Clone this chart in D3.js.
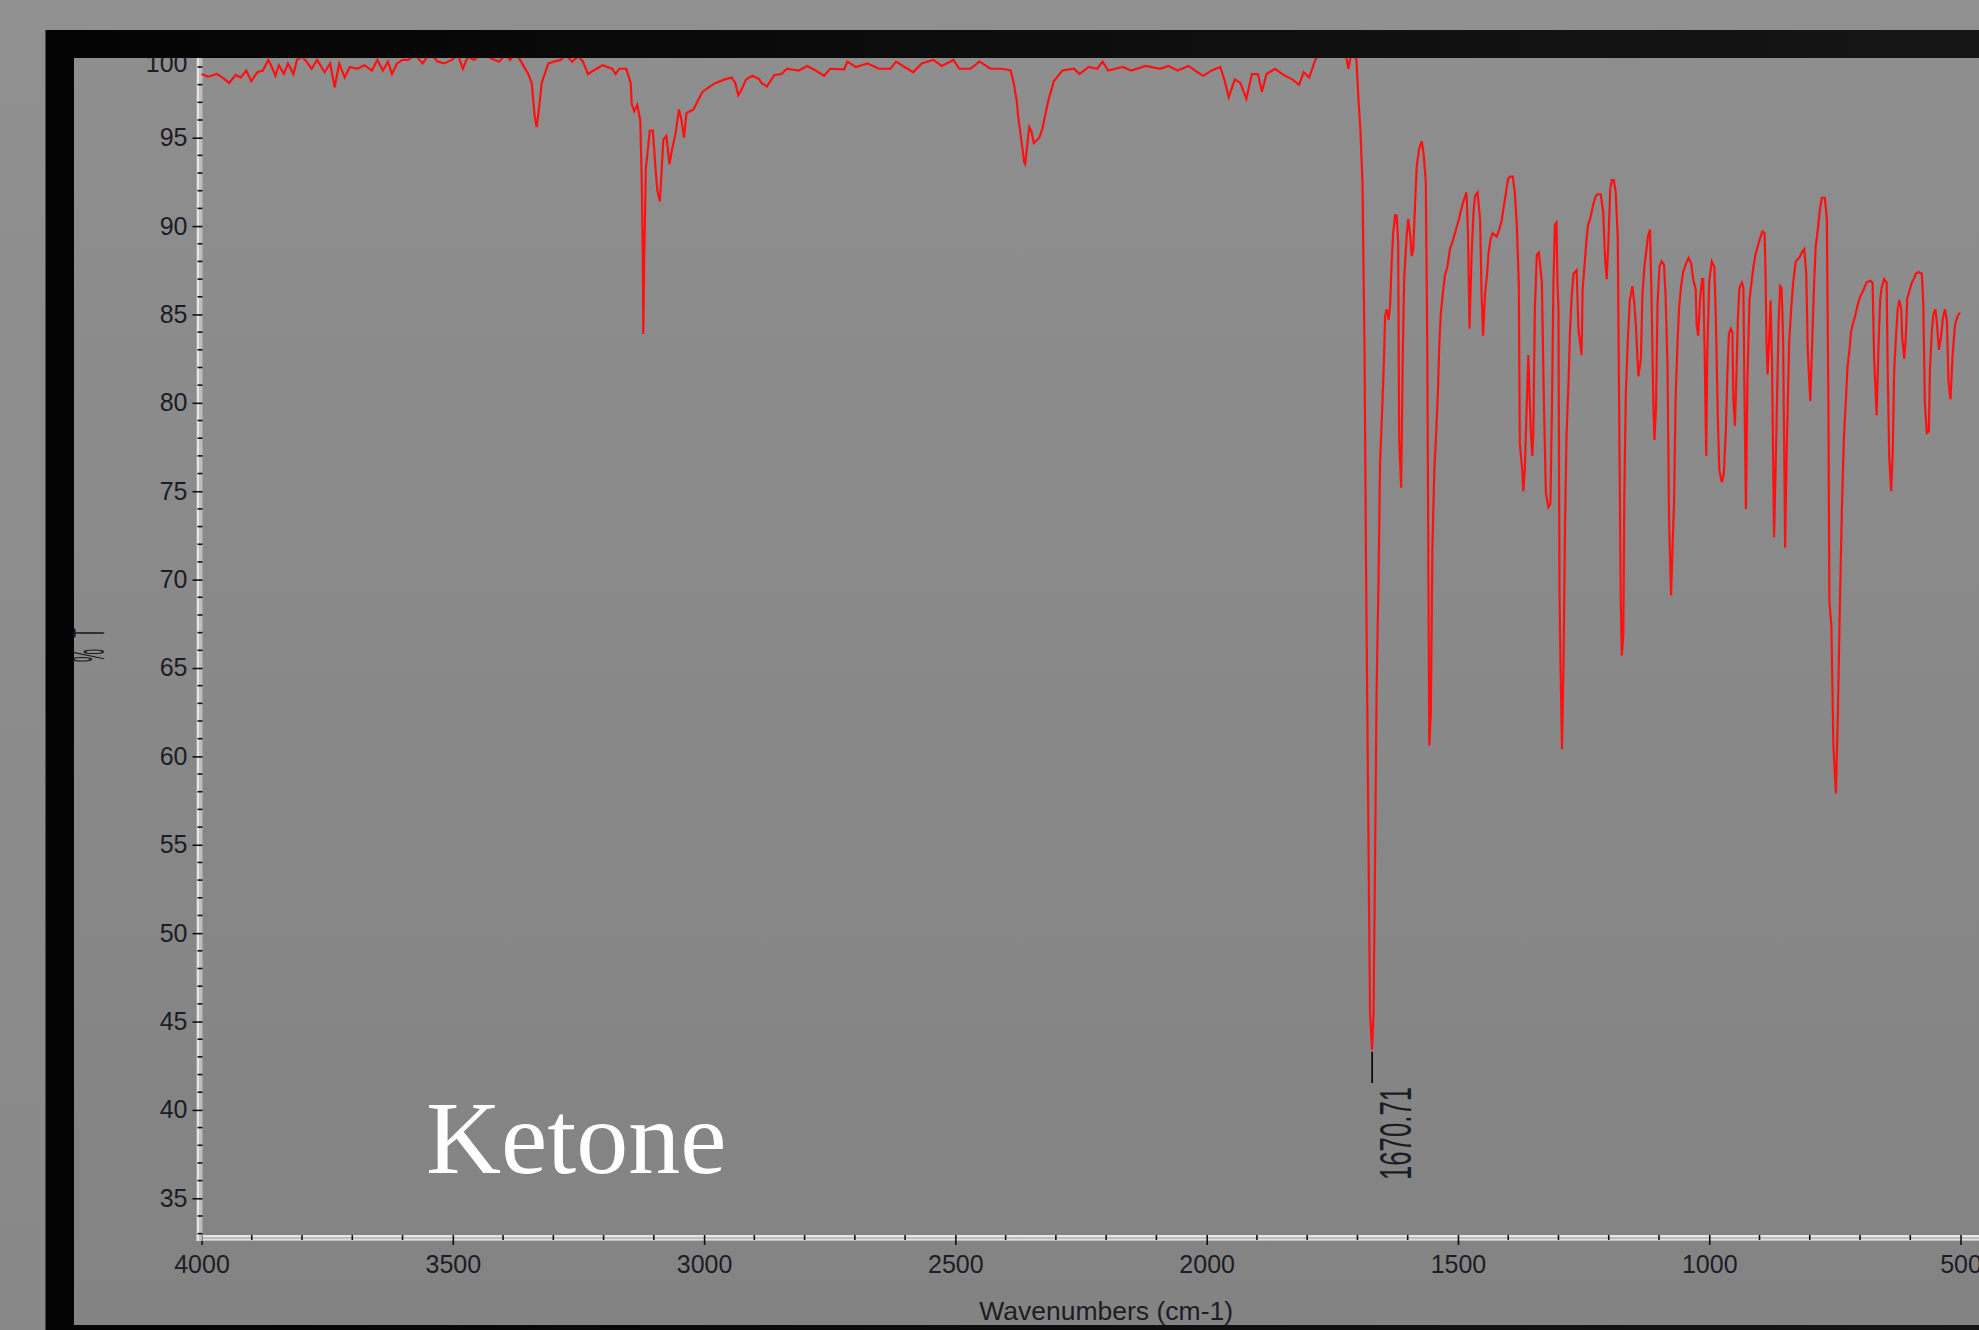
<!DOCTYPE html>
<html lang="en">
<head>
<meta charset="utf-8">
<title>Ketone IR spectrum</title>
<script src="https://cdn.jsdelivr.net/npm/d3@7"></script>
<style>
  html, body { margin: 0; padding: 0; background: #8e8e8e; overflow: hidden; }
  svg { display: block; }
  .tick text { font-family: "Liberation Sans", Arial, sans-serif; font-size: 25px; fill: #1c1c24; }
  .tick line { stroke: #111; stroke-width: 1.6px; }
</style>
</head>
<body>
<script>
// spectrum, [wavenumber (cm-1), %T], high to low wavenumber
const regionHigh = [
  [4000,98.6],[3987,98.45],[3969,98.6],[3958,98.4],[3945,98.1],[3932,98.55],[3922,98.4],[3911,98.8],
  [3901,98.2],[3889,98.7],[3878,98.8],[3867,99.4],[3860,99.0],[3853,98.5],[3846,99.1],[3836,98.6],
  [3828,99.2],[3817,98.6],[3810,99.4],[3800,99.6],[3791,99.3],[3781,98.9],[3770,99.4],[3755,98.7],
  [3744,99.2],[3735,97.85],[3726,99.2],[3715,98.4],[3705,99.0],[3690,98.9],[3676,99.1],[3661,98.8],
  [3650,99.4],[3639,98.8],[3629,99.3],[3621,98.6],[3611,99.2],[3600,99.4],[3589,99.4],[3575,99.7],
  [3560,99.2],[3545,99.8],[3530,99.3],[3516,99.2],[3502,99.4],[3490,99.7],[3480,98.9],[3470,99.6],
  [3458,99.4],[3440,99.8],[3425,99.5],[3408,99.3],[3395,99.7],[3386,99.4],[3375,99.8],[3364,99.3],
  [3350,98.6],[3343,98.1],[3337,96.2],[3333,95.6],[3328,96.8],[3323,98.1],[3310,99.2],[3299,99.3],
  [3285,99.4],[3275,99.7],[3263,99.3],[3250,99.6],[3241,99.3],[3231,98.6],[3220,98.8],[3202,99.1],
  [3183,98.9],[3176,98.6],[3169,98.9],[3155,98.9],[3146,98.1],[3144,96.9],[3139,96.5],[3133,96.85],
  [3127,96.0],[3124,92.6],[3122,88.3],[3121,83.9],[3119,88.3],[3116,93.2],[3108,95.4],[3102,95.4],
  [3097,93.4],[3093,92.0],[3088,91.4],[3084,93.4],[3081,94.9],[3075,95.1],[3069,93.5],[3064,94.3],
  [3057,95.2],[3050,96.6],[3045,96.0],[3040,95.0],[3035,96.4],[3028,96.5],[3021,96.6],[3014,97.0],
  [3003,97.6],[2988,97.9],[2977,98.1],[2959,98.3],[2945,98.4],[2938,98.1],[2932,97.4],[2926,97.7],
  [2916,98.3],[2904,98.5],[2890,98.3]
];

const regionMid = [
  [2886,98.1],[2875,97.9],[2860,98.55],[2846,98.6],[2835,98.9],[2812,98.8],[2795,99.06],[2778,98.8],
  [2761,98.5],[2749,98.9],[2721,98.87],[2715,99.3],[2698,99.0],[2675,99.2],[2652,98.9],[2629,98.9],
  [2618,99.3],[2601,99.0],[2584,98.7],[2567,99.2],[2544,99.4],[2527,99.06],[2504,99.4],[2492,98.9],
  [2470,98.9],[2452,99.3],[2430,98.9],[2407,98.9],[2390,98.8],[2384,98.1],[2378,97.1],[2375,96.2],
  [2369,94.9],[2363,93.6],[2361,93.5],[2359,94.1],[2353,95.6],[2349,95.4],[2344,94.7],[2333,95.0],
  [2327,95.5],[2315,97.1],[2304,98.2],[2287,98.8],[2264,98.9],[2253,98.6],[2235,99.0],[2218,98.9],
  [2207,99.3],[2196,98.8],[2167,99.0],[2150,98.8],[2121,99.06],[2093,98.9],[2076,99.06],[2058,98.8],
  [2036,99.06],[2018,98.7],[2007,98.5],[1990,98.8],[1973,99.0],[1965,98.3],[1956,97.3],[1944,98.3],
  [1933,98.1],[1921,97.2],[1910,98.6],[1898,98.6],[1890,97.6],[1881,98.6],[1864,98.9],[1847,98.55],
  [1830,98.3],[1816,98.0],[1807,98.7],[1796,98.4],[1784,99.4],[1773,100.0],[1760,100.5],[1745,100.3],
  [1730,100.2],[1721,99.4],[1718,98.9],[1714,99.5],[1710,99.8],[1702,99.4]
];

const regionCarbonyl = [
  [1698,97.2],[1694,95.4],[1690,92.5],[1686,83.2],[1683,71.1],[1678,55.0],[1675,45.5],[1671,43.4],
  [1668,45.5],[1665,54.0],[1662,63.5],[1658,70.1],[1655,76.6],[1650,80.2],[1647,82.6],[1645,84.9],
  [1642,85.3],[1638,84.7],[1635,85.5],[1632,87.9],[1629,89.6],[1625,90.6],[1622,90.6],[1619,89.1],
  [1617,77.9],[1613,75.2],[1610,82.4],[1607,87.0],[1602,89.5],[1599,90.4],[1595,89.5],[1592,88.3],
  [1589,88.7],[1585,91.5],[1582,93.4],[1577,94.4],[1572,94.8],[1568,94.0],[1564,92.5],[1561,83.0],
  [1559,71.6],[1557,60.6],[1554,62.4],[1551,71.6],[1547,76.2],[1544,77.9],[1540,80.5],[1537,83.4],
  [1534,85.1],[1530,86.2],[1526,87.2],[1521,87.7],[1516,88.7],[1511,89.1],[1506,89.6],[1502,90.0],
  [1498,90.4],[1493,91.0],[1488,91.5],[1483,91.9],[1480,89.6],[1477,84.2],[1473,88.3],[1469,90.8],
  [1466,91.7],[1461,91.9],[1456,90.4],[1453,86.2],[1450,83.8],[1446,86.2],[1442,87.3],[1439,88.5]
];

const regionFingerprintA = [
  [1435,89.3],[1431,89.6],[1423,89.4],[1418,89.8],[1413,90.3],[1410,90.9],[1406,91.6],[1403,92.2],
  [1400,92.7],[1396,92.8],[1391,92.8],[1387,91.95],[1383,90.1],[1379,86.8],[1377,77.7],[1372,76.2],
  [1370,75.0],[1367,76.2],[1363,80.0],[1360,82.7],[1357,80.0],[1355,78.4],[1352,77.0],[1350,78.4],
  [1347,85.3],[1343,88.4],[1339,88.5],[1333,86.8],[1329,80.0],[1325,74.9],[1320,74.1],[1316,74.3],
  [1313,79.7],[1310,86.8],[1307,90.1],[1304,90.2],[1302,86.8],[1300,85.3],[1298,69.3],[1296,65.3],
  [1293,60.4],[1290,65.3],[1287,73.0],[1284,78.1],[1280,81.2],[1277,84.1],[1274,85.9],[1270,87.3],
  [1267,87.4],[1264,87.5],[1260,84.1],[1257,83.4],[1254,82.7],[1252,86.4],[1247,88.2],[1244,89.3],
  [1241,90.1],[1237,90.4],[1234,90.8],[1231,91.2],[1227,91.6],[1223,91.8],[1216,91.8],[1211,90.8],
  [1207,88.0],[1204,87.0],[1201,88.9],[1197,92.1],[1194,92.6],[1190,92.6],[1186,91.9],[1182,89.3],
  [1180,82.1],[1176,68.8],[1174,65.7],[1171,66.9],[1169,74.6],[1166,80.5],[1162,83.6]
];

const regionFingerprintB = [
  [1158,85.8],[1153,86.6],[1149,85.6],[1146,84.4],[1141,81.5],[1136,82.5],[1133,86.1],[1129,87.7],
  [1126,88.4],[1122,89.4],[1118,89.8],[1115,86.3],[1111,79.7],[1109,77.9],[1106,79.7],[1103,85.5],
  [1099,87.7],[1095,88.0],[1090,87.8],[1087,86.1],[1083,82.1],[1080,73.4],[1076,69.1],[1073,71.9],
  [1070,74.4],[1067,80.2],[1063,83.5],[1060,85.4],[1056,86.6],[1052,87.4],[1046,87.9],[1041,88.2],
  [1036,87.9],[1032,87.0],[1027,86.4],[1025,84.4],[1022,83.8],[1018,86.0],[1014,87.0],[1012,87.0],
  [1009,82.6],[1006,77.0],[1004,82.7],[1000,86.9],[995,88.0],[990,87.7],[987,85.0],[983,79.2],
  [980,76.2],[975,75.5],[971,76.0],[967,78.4],[964,81.6],[961,83.9],[957,84.2],[954,84.0],
  [952,80.2],[949,78.7],[947,80.5],[943,84.8],[940,86.5],[935,86.8],[932,86.5],[930,80.6],
  [927,74.0],[924,81.3],[920,85.8],[916,86.8],[912,87.7],[908,88.4],[904,88.8],[899,89.3],
  [894,89.7],[890,89.6],[888,87.3],[886,83.4],[884,81.6],[881,83.4]
];

const regionLow = [
  [878,85.8],[875,82.0],[871,72.4],[867,77.6],[862,84.5],[859,86.6],[856,86.5],[853,83.5],
  [849,71.8],[846,77.2],[841,83.4],[837,85.3],[833,86.8],[828,88.0],[821,88.2],[816,88.5],
  [811,88.7],[807,87.3],[804,83.0],[799,80.1],[795,83.7],[791,87.0],[788,88.9],[784,89.8],
  [780,90.9],[776,91.6],[770,91.6],[766,90.4],[763,80.1],[761,68.8],[757,67.4],[753,60.6],
  [748,57.9],[744,62.5],[740,68.7],[736,74.1],[732,78.1],[728,80.2],[725,82.0],[721,83.0],
  [718,84.0],[713,84.6],[709,85.0],[705,85.5],[700,86.0],[693,86.4],[687,86.8],[680,86.9],
  [675,86.8],[672,82.6],[667,79.3],[663,83.4],[660,85.8],[657,86.5],[652,87.0],[647,86.8],
  [645,82.0],[642,77.0],[638,75.0],[635,77.2],[632,81.8],[628,84.0],[625,85.3],[622,85.8],
  [618,85.3],[616,83.7],[612,82.5],[609,83.7],[606,85.9],[602,86.3],[597,86.8],[593,87.0],
  [589,87.3],[584,87.4],[577,87.3],[574,85.5],[571,80.0],[567,78.3],[563,78.4],[561,81.8],
  [557,84.1],[554,85.0],[550,85.3],[547,84.5],[543,83.0],[539,83.7],[535,84.8],[531,85.3],
  [527,84.6],[524,81.2],[520,80.2],[516,82.6],[511,84.4],[506,84.9],[501,85.1]
];

const xTicks = [4000, 3500, 3000, 2500, 2000, 1500, 1000, 500];
const yTicks = [35, 40, 45, 50, 55, 60, 65, 70, 75, 80, 85, 90, 95, 100];
const peak = { wn: 1670.71, t: 43.4, label: "1670.71" };
const sampleName = "Ketone";
const xTitle = "Wavenumbers (cm-1)";
const yTitle = ["%", "T"];

const spectrum = [].concat(regionHigh, regionMid, regionCarbonyl,
  regionFingerprintA, regionFingerprintB, regionLow);

const W = 1979, H = 1330;

const x = d3.scaleLinear().domain([4000, 400]).range([201.5, 2010.8]);
const y = d3.scaleLinear().domain([35, 100]).range([1198.3, 49.3]);

const svg = d3.select("body").append("svg")
  .attr("width", W).attr("height", H);

const defs = svg.append("defs");
const gOuter = defs.append("linearGradient").attr("id", "outerBg")
  .attr("x1", 0).attr("y1", 0).attr("x2", 0).attr("y2", 1);
gOuter.append("stop").attr("offset", "0%").attr("stop-color", "#909090");
gOuter.append("stop").attr("offset", "100%").attr("stop-color", "#888888");

const gInner = defs.append("linearGradient").attr("id", "innerBg")
  .attr("x1", 0).attr("y1", 0).attr("x2", 0).attr("y2", 1);
gInner.append("stop").attr("offset", "0%").attr("stop-color", "#8e8e8e");
gInner.append("stop").attr("offset", "100%").attr("stop-color", "#838383");

const gFrame = defs.append("linearGradient").attr("id", "frameBg")
  .attr("x1", 0).attr("y1", 0).attr("x2", 1).attr("y2", 0);
gFrame.append("stop").attr("offset", "0%").attr("stop-color", "#040404");
gFrame.append("stop").attr("offset", "100%").attr("stop-color", "#161616");

defs.append("clipPath").attr("id", "inner")
  .append("rect").attr("x", 74).attr("y", 58).attr("width", W).attr("height", 1325 - 58);

// background, monitor frame, plot window
svg.append("rect").attr("width", W).attr("height", H).attr("fill", "url(#outerBg)");
svg.append("rect").attr("x", 45.5).attr("y", 30).attr("width", W).attr("height", H)
  .attr("fill", "url(#frameBg)");
svg.append("rect").attr("x", 74).attr("y", 58).attr("width", W).attr("height", 1325 - 58)
  .attr("fill", "url(#innerBg)");

const plot = svg.append("g").attr("clip-path", "url(#inner)");

// x axis
const xAxisY = 1235;
plot.append("rect").attr("x", 196.5).attr("y", xAxisY).attr("width", W).attr("height", 6)
  .attr("fill", "#bdbdbd");
plot.append("line").attr("x1", 196.5).attr("x2", W).attr("y1", xAxisY + 1).attr("y2", xAxisY + 1)
  .attr("stroke", "#f4f4f4").attr("stroke-width", 1.5);
plot.append("line").attr("x1", 196.5).attr("x2", W).attr("y1", xAxisY + 4.5).attr("y2", xAxisY + 4.5)
  .attr("stroke", "#dedede").attr("stroke-width", 1);

plot.append("g").selectAll("line")
  .data(d3.range(4000, 399, -100).filter(v => v % 500 !== 0))
  .join("line")
  .attr("x1", d => x(d)).attr("x2", d => x(d))
  .attr("y1", xAxisY).attr("y2", xAxisY + 5)
  .attr("stroke", "#111").attr("stroke-width", 1.6);

const xAxis = plot.append("g").attr("transform", `translate(0,${xAxisY})`)
  .call(d3.axisBottom(x).tickValues(xTicks).tickSizeInner(10).tickSizeOuter(0).tickPadding(10)
    .tickFormat(d3.format("d")));
xAxis.select(".domain").remove();

// y axis
const yAxisX = 202.5;
plot.append("rect").attr("x", 196.5).attr("y", 40).attr("width", 6).attr("height", xAxisY + 6 - 40)
  .attr("fill", "#bdbdbd");
plot.append("line").attr("x1", 198).attr("x2", 198).attr("y1", 40).attr("y2", xAxisY + 6)
  .attr("stroke", "#f4f4f4").attr("stroke-width", 1.5);

plot.append("g").selectAll("line")
  .data(d3.range(33, 100, 1).filter(v => v % 5 !== 0))
  .join("line")
  .attr("x1", yAxisX - 5).attr("x2", yAxisX)
  .attr("y1", d => y(d)).attr("y2", d => y(d))
  .attr("stroke", "#111").attr("stroke-width", 1.6);

const yAxis = plot.append("g").attr("transform", `translate(${yAxisX},0)`)
  .call(d3.axisLeft(y).tickValues(yTicks).tickSizeInner(10).tickSizeOuter(0).tickPadding(5));
yAxis.select(".domain").remove();
// the top label sits lower than its tick in the original software
yAxis.selectAll(".tick").filter(d => d === 100).select("text").attr("y", 14);

// spectrum
const line = d3.line().x(d => x(d[0])).y(d => y(d[1]));
plot.append("path")
  .datum(spectrum)
  .attr("d", line)
  .attr("fill", "none")
  .attr("stroke", "#ff1111")
  .attr("stroke-width", 2.2)
  .attr("stroke-linejoin", "miter");

// peak marker
plot.append("line")
  .attr("x1", x(peak.wn)).attr("x2", x(peak.wn))
  .attr("y1", y(peak.t) + 2).attr("y2", 1083)
  .attr("stroke", "#000").attr("stroke-width", 1.6);
plot.append("text")
  .attr("transform", `translate(${x(peak.wn) + 39},1180) rotate(-90) scale(0.585,1)`)
  .attr("font-family", "Liberation Sans, Arial, sans-serif")
  .attr("font-size", 44)
  .attr("fill", "#1c1c24")
  .text(peak.label);

// sample name
plot.append("text")
  .attr("x", 426).attr("y", 1173)
  .attr("font-family", "Liberation Serif, Times New Roman, serif")
  .attr("font-size", 104)
  .attr("fill", "#ffffff")
  .text(sampleName);

// axis titles
plot.append("text")
  .attr("x", (x(4000) + x(400)) / 2).attr("y", 1320)
  .attr("text-anchor", "middle")
  .attr("font-family", "Liberation Sans, Arial, sans-serif")
  .attr("font-size", 26.5)
  .attr("fill", "#1c1c24")
  .text(xTitle);

const yt = plot.append("text")
  .attr("transform", "translate(104,662) rotate(-90) scale(0.32,1)")
  .attr("font-family", "Liberation Sans, Arial, sans-serif")
  .attr("font-size", 46)
  .attr("fill", "#1c1c24");
yt.append("tspan").text(yTitle[0]);
yt.append("tspan").attr("dx", 36).text(yTitle[1]);
</script>
</body>
</html>
